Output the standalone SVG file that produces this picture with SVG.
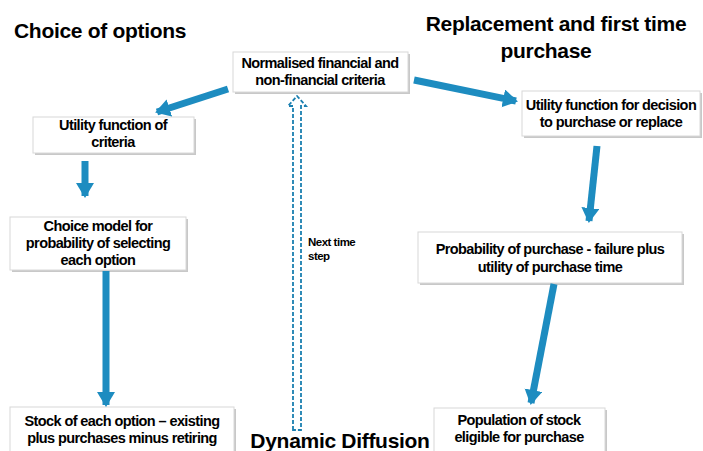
<svg xmlns="http://www.w3.org/2000/svg" width="703" height="451" viewBox="0 0 703 451">
<defs>
<style>
.box{fill:#fff;stroke:#d8d8d8;stroke-width:1}
.shadow{fill:#c8c8c8}
.t{font-family:"Liberation Sans",Arial,sans-serif;font-weight:bold;font-size:14.5px;letter-spacing:-0.6px;fill:#000;text-anchor:middle}
.title{font-family:"Liberation Sans",Arial,sans-serif;font-weight:bold;font-size:21px;letter-spacing:-0.3px;fill:#000}
.arr{stroke:#1d8cc0;stroke-width:7;fill:none}
</style>
<marker id="ah" markerUnits="userSpaceOnUse" markerWidth="20" markerHeight="20" refX="13" refY="9" orient="auto">
<path d="M0,0 L15,9 L0,18 Z" fill="#1d8cc0"/>
</marker>
</defs>
<rect width="703" height="451" fill="#fff"/>
<text class="title" x="14" y="38">Choice of options</text>
<text class="title" x="556" y="31" text-anchor="middle" font-size="23" letter-spacing="-0.2">Replacement and first time</text>
<text class="title" x="546" y="58" text-anchor="middle">purchase</text>
<text class="title" x="340" y="448" text-anchor="middle" font-size="22.5" letter-spacing="-0.2">Dynamic Diffusion</text>

<g id="n1"><rect class="shadow" x="235" y="54" width="175" height="40"/><rect class="box" x="233" y="52" width="175" height="40"/>
<text class="t" x="320" y="68">Normalised financial and</text><text class="t" x="320" y="85">non-financial criteria</text></g>
<g id="n2"><rect class="shadow" x="35" y="119" width="161" height="36"/><rect class="box" x="33" y="117" width="161" height="36"/>
<text class="t" x="113" y="130">Utility function of</text><text class="t" x="113" y="147">criteria</text></g>
<g id="n3"><rect class="shadow" x="12" y="219" width="176" height="53"/><rect class="box" x="10" y="217" width="176" height="53"/>
<text class="t" x="98" y="231">Choice model for</text><text class="t" x="98" y="248">probability of selecting</text><text class="t" x="98" y="265">each option</text></g>
<g id="n4"><rect class="shadow" x="12" y="409" width="224" height="44"/><rect class="box" x="10" y="407" width="224" height="46"/>
<text class="t" x="122" y="426">Stock of each option – existing</text><text class="t" x="122" y="443">plus purchases minus retiring</text></g>
<g id="n5"><rect class="shadow" x="524" y="93" width="178" height="45"/><rect class="box" x="522" y="91" width="178" height="45"/>
<text class="t" x="611" y="110">Utility function for decision</text><text class="t" x="611" y="127">to purchase or replace</text></g>
<g id="n6"><rect class="shadow" x="420" y="234" width="264" height="51"/><rect class="box" x="418" y="232" width="264" height="51"/>
<text class="t" x="550" y="254">Probability of purchase - failure plus</text><text class="t" x="550" y="272">utility of purchase time</text></g>
<g id="n7"><rect class="shadow" x="436" y="410" width="171" height="43"/><rect class="box" x="434" y="408" width="171" height="45"/>
<text class="t" x="519" y="425">Population of stock</text><text class="t" x="519" y="442">eligible for purchase</text></g>

<g id="connectors">
<line class="arr" x1="228" y1="89" x2="157" y2="112" marker-end="url(#ah)"/>
<line class="arr" x1="414" y1="80" x2="516" y2="101" marker-end="url(#ah)"/>
<line class="arr" x1="85" y1="161" x2="85" y2="196" marker-end="url(#ah)"/>
<line class="arr" x1="106" y1="271" x2="106" y2="405" marker-end="url(#ah)"/>
<line class="arr" x1="597" y1="146" x2="589" y2="221" marker-end="url(#ah)"/>
<line class="arr" x1="554" y1="284" x2="531" y2="403" marker-end="url(#ah)"/>
<path d="M293,430 L293,106 L288,106 L297,96 L306,106 L301,106 L301,430 Z" fill="#fff" stroke="#1a7fb0" stroke-width="1.8" stroke-dasharray="4 2"/>
<text class="t" x="308" y="246" style="text-anchor:start;font-size:11.5px;letter-spacing:-0.5px">Next time</text>
<text class="t" x="308" y="260" style="text-anchor:start;font-size:11.5px;letter-spacing:-0.5px">step</text>
</g>
</svg>
